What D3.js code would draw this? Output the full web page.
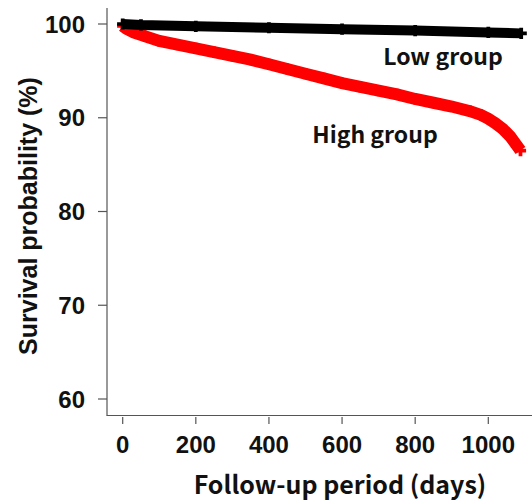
<!DOCTYPE html>
<html>
<head>
<meta charset="utf-8">
<script src="https://cdn.jsdelivr.net/npm/d3@7"></script>
<style>
  body { margin: 0; background: #fff; }
  text { fill: #111; }
</style>
</head>
<body>
<script>
"use strict";

// Survival curves (days, %)
let lowDays  = [0, 50, 200, 400, 600, 800, 1000, 1090];
let lowSurv  = [100, 99.9, 99.75, 99.6, 99.45, 99.3, 99.1, 99.0];

let highDays = [0, 10, 30, 60, 100, 150, 200, 250, 300, 350, 400, 450, 500, 550, 600,
                650, 700, 750, 800, 850, 900, 950, 980, 1000, 1020, 1040, 1060, 1075, 1088];
let highSurv = [99.8, 99.5, 99.1, 98.7, 98.2, 97.8, 97.4, 97.0, 96.6, 96.2, 95.7, 95.2, 94.7, 94.2, 93.7,
                93.3, 92.9, 92.5, 92.0, 91.6, 91.2, 90.7, 90.3, 89.9, 89.4, 88.8, 88.0, 87.2, 86.5];

let xTicks = [0, 200, 400, 600, 800, 1000];
let yTicks = [60, 70, 80, 90, 100];

let w = 532, h = 500;

let svg = d3.select("body").append("svg")
    .attr("width", w)
    .attr("height", h);

// scales: 0 days at x=122.7, 1000 at 488.3 ; 100% at y=24, 60% at y=399
let x = d3.scaleLinear().domain([0, 1000]).range([122.7, 488.3]);
let y = d3.scaleLinear().domain([60, 100]).range([399, 24]);

let axisColor = "#555";

// axis lines
svg.append("line")
    .attr("x1", 107).attr("x2", 107).attr("y1", 8).attr("y2", 415.5)
    .attr("stroke", axisColor).attr("stroke-width", 1.2);
svg.append("line")
    .attr("x1", 106.5).attr("x2", w).attr("y1", 415.5).attr("y2", 415.5)
    .attr("stroke", axisColor).attr("stroke-width", 1.2);

// y ticks + labels
let yAxis = svg.append("g");
yAxis.selectAll("line").data(yTicks).enter().append("line")
    .attr("x1", 98).attr("x2", 107)
    .attr("y1", d => y(d)).attr("y2", d => y(d))
    .attr("stroke", axisColor).attr("stroke-width", 1.2);
yAxis.selectAll("text").data(yTicks).enter().append("text")
    .attr("x", 85).attr("y", d => y(d))
    .attr("dy", "0.36em")
    .attr("text-anchor", "end")
    .style("font", "bold 24px 'Liberation Sans', Arial, sans-serif")
    .text(d => d);

// x ticks + labels
let xAxis = svg.append("g");
xAxis.selectAll("line").data(xTicks).enter().append("line")
    .attr("x1", d => x(d)).attr("x2", d => x(d))
    .attr("y1", 417).attr("y2", 424)
    .attr("stroke", axisColor).attr("stroke-width", 1.2);
xAxis.selectAll("text").data(xTicks).enter().append("text")
    .attr("x", d => x(d)).attr("y", 453)
    .attr("text-anchor", "middle")
    .style("font", "bold 24px 'Liberation Sans', Arial, sans-serif")
    .text(d => d);

// axis titles
svg.append("text")
    .attr("x", 340).attr("y", 494)
    .attr("text-anchor", "middle")
    .style("font", "bold 25px 'Noto Sans CJK JP', sans-serif")
    .text("Follow-up period (days)");

svg.append("text")
    .attr("transform", "translate(37,216) rotate(-90)")
    .attr("text-anchor", "middle")
    .style("font", "bold 25px 'Liberation Sans', Arial, sans-serif")
    .text("Survival probability (%)");

// curves
let line = d3.line()
    .x(d => x(d[0]))
    .y(d => y(d[1]));

let groups = [
    {name: "Low group",  days: lowDays,  surv: lowSurv,  color: "#000", width: 10},
    {name: "High group", days: highDays, surv: highSurv, color: "#ff0000", width: 12}
];

let plus = d3.symbol().type(d3.symbolCross).size(70);

// draw high first so the low (black) band sits on top at the start
groups.slice().reverse().forEach(g => {
    let pts = d3.zip(g.days, g.surv);
    svg.append("path")
        .datum(pts)
        .attr("fill", "none")
        .attr("stroke", g.color)
        .attr("stroke-width", g.width)
        .attr("d", line);
    svg.append("g").selectAll("path").data(pts).enter().append("path")
        .attr("transform", d => `translate(${x(d[0])},${y(d[1])})`)
        .attr("d", plus)
        .attr("fill", g.color);
});

// group labels
svg.append("text")
    .attr("x", 443).attr("y", 65)
    .attr("text-anchor", "middle")
    .style("font", "bold 23px 'Noto Sans CJK JP', sans-serif")
    .text("Low group");
svg.append("text")
    .attr("x", 375).attr("y", 143)
    .attr("text-anchor", "middle")
    .style("font", "bold 23px 'Noto Sans CJK JP', sans-serif")
    .text("High group");
</script>
</body>
</html>
